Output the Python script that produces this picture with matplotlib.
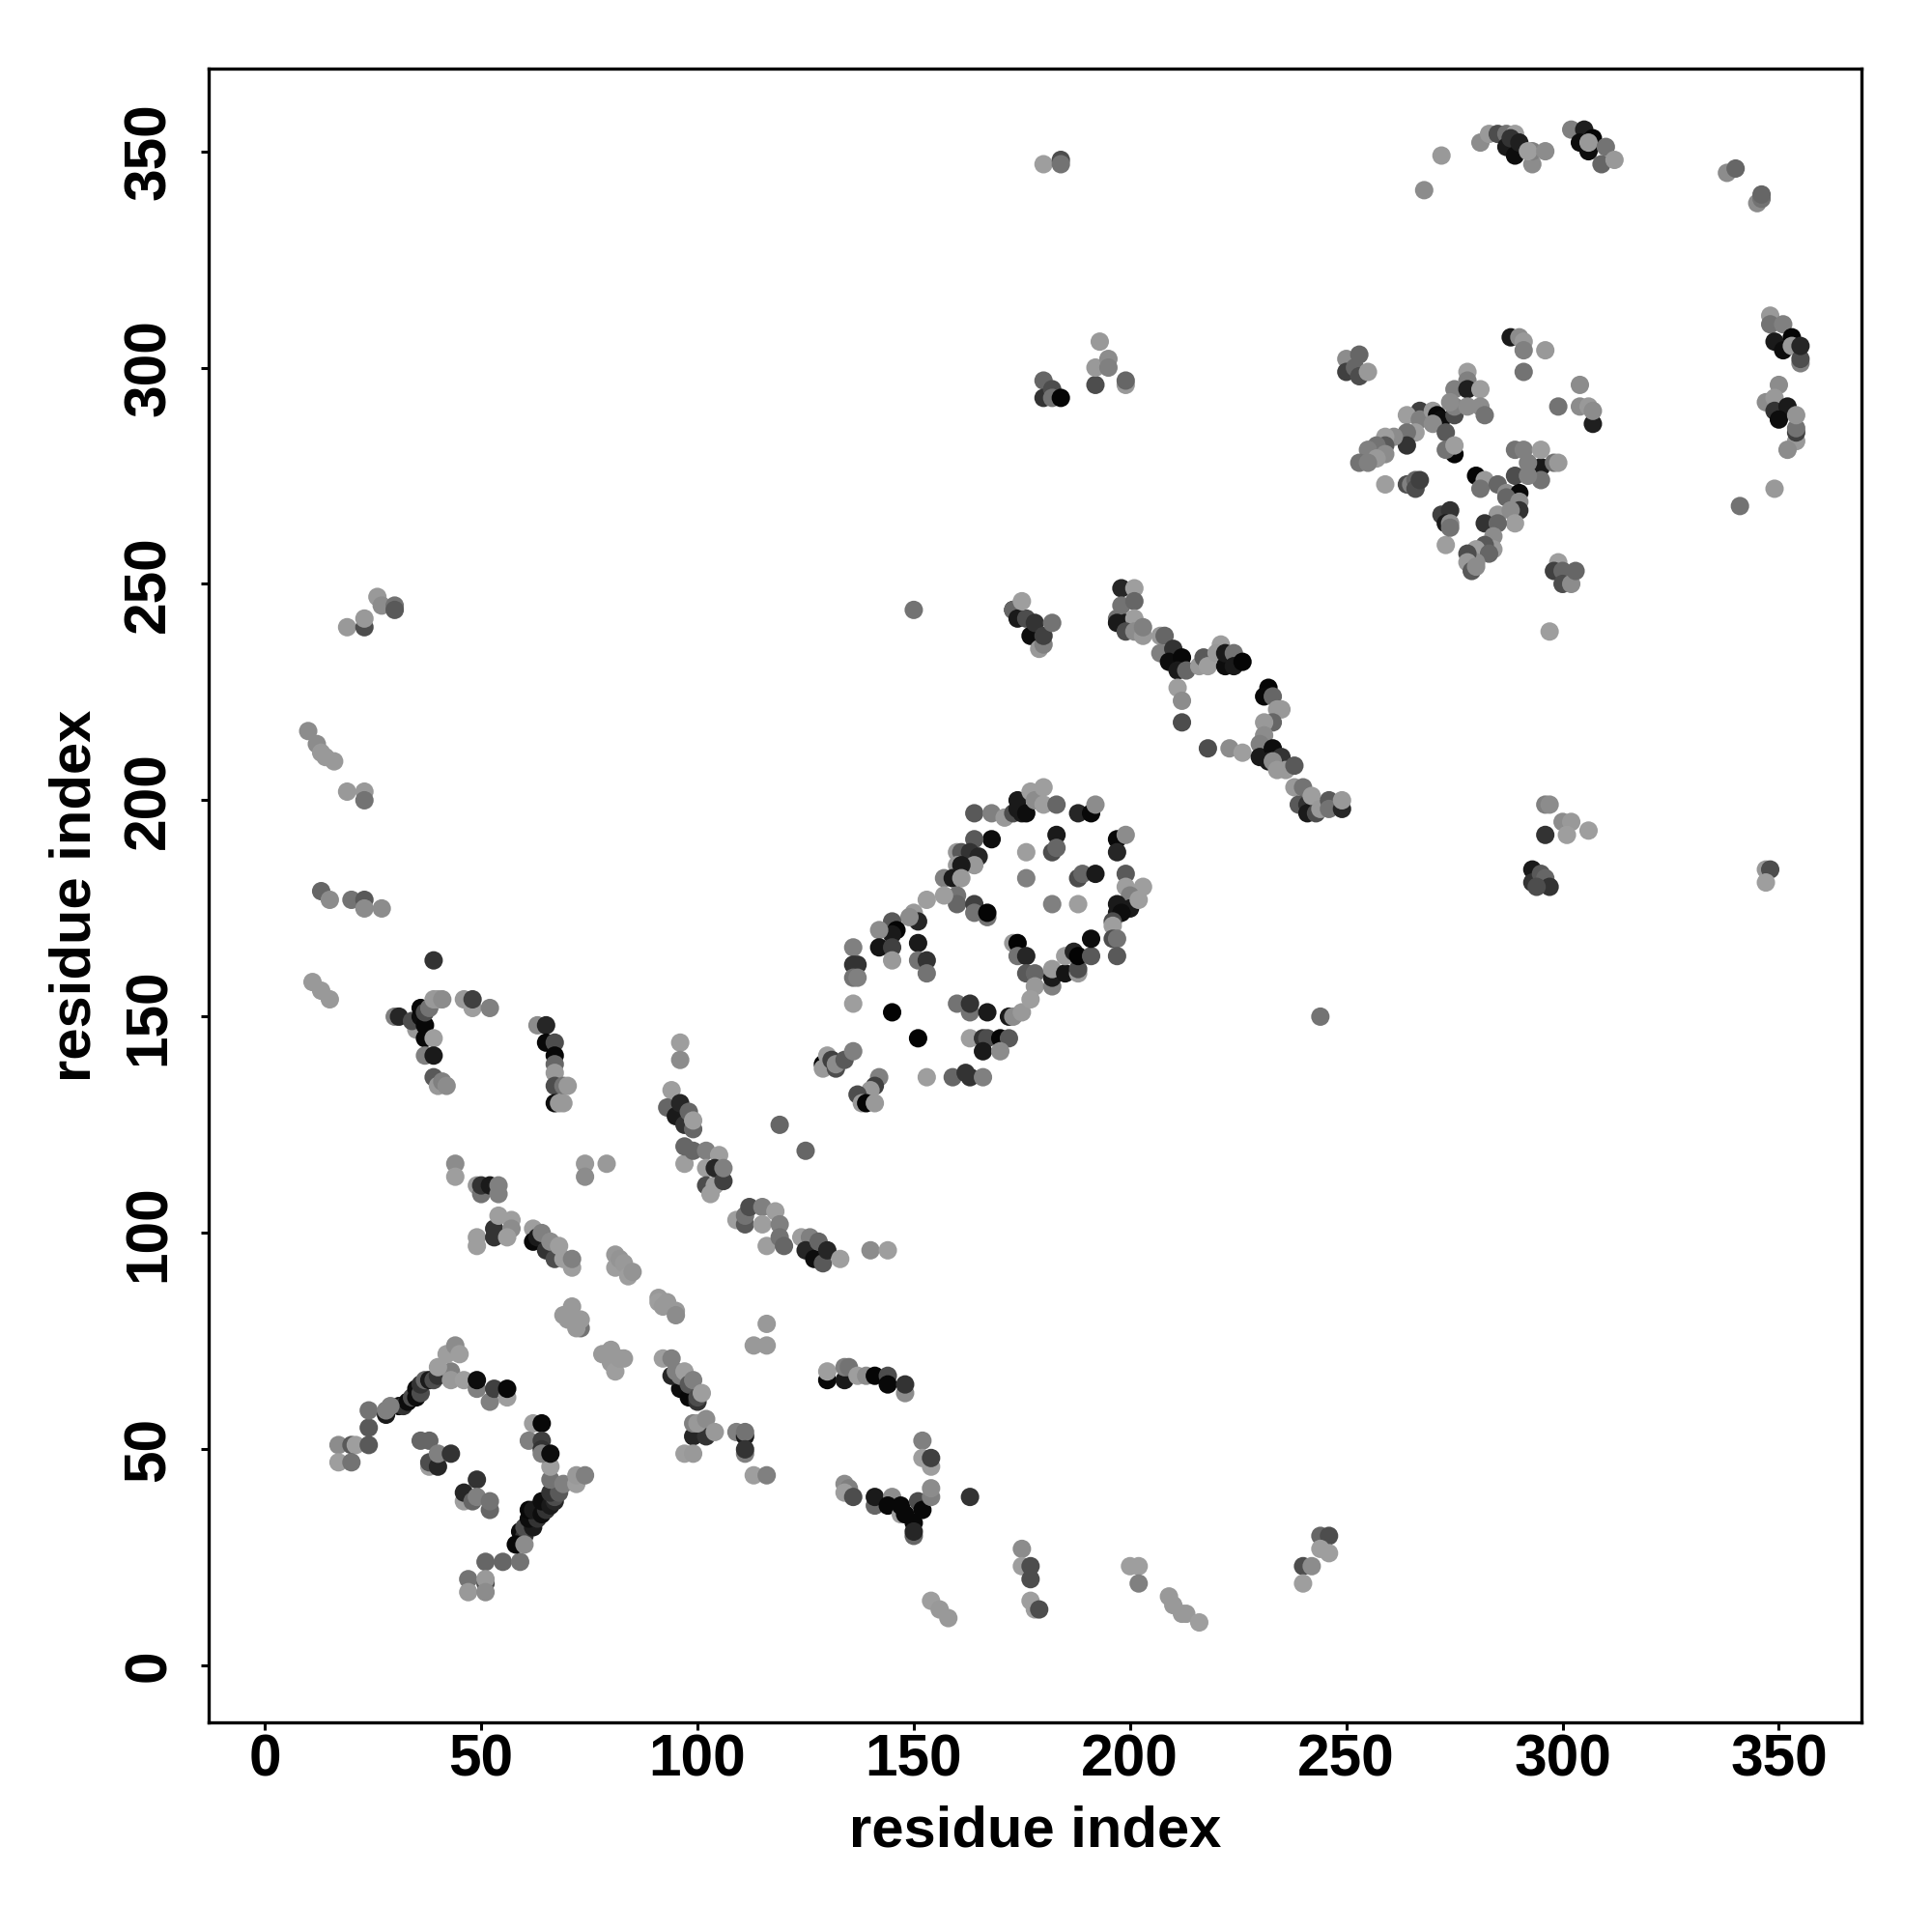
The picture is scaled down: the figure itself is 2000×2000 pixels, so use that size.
import matplotlib
matplotlib.use("Agg")
import matplotlib.pyplot as plt

plt.rcParams['font.family'] = ['Liberation Sans', 'DejaVu Sans']

# (residue i, residue j, grey level)
lower_left = [(17,51,.55),(17,47,.62),(20,51,.35),(21,51,.62),(20,47,.45),(24,51,.35),(24,55,.35),(24,59,.45),
 (28,58,.1),(28,59,.5),(31,60,.05),(32,60,.2),(33,61,.05),(29,60,.5),(34,62,.3),(35,62,.05),(35,64,.05),(36,63,.3),
 (36,65,.2),(37,66,.4),(38,66,.1),(39,66,.3),(40,67,.2),(43,68,.5),(43,66,.6),(40,69,.62),(42,72,.62),(44,74,.55),(45,72,.62),
 (46,66,.62),(49,64,.5),(49,66,.05),(52,61,.5),(53,64,.25),(56,62,.62),(56,64,.03),
 (36,52,.4),(38,52,.4),(38,46,.62),(38,47,.3),(40,46,.15),(40,49,.5),(43,49,.2),
 (49,43,.2),(46,38,.62),(46,40,.15),(48,38,.4),(49,39,.5),(52,36,.4),(52,38,.45),
 (51,24,.4),(55,24,.4),(59,24,.45),(47,20,.45),(51,19,.3),(51,20,.6),(47,17,.6),(51,17,.55)]
lower_left_arm = [(59,31,.05),(60,30,.2),(60,32,.3),(62,32,.1),(61,34,.05),(63,34,.2),(61,36,.03),(62,36,.1),(64,35,.05),
 (65,36,.2),(64,38,.05),(66,37,.1),(67,38,.15),(67,39,.3),(66,40,.2),(68,40,.35),(58,28,.03),(60,28,.55),
 (66,43,.45),(69,42,.5),(72,42,.62),(72,44,.6),(74,44,.5),(66,46,.62),
 (62,56,.62),(64,56,.03),(61,52,.5),(64,52,.25),(64,50,.2),(64,49,.5),(66,49,.05)]
anti_diagonal_a = [(44,116,.55),(44,113,.62),(49,111,.6),(50,109,.45),(50,111,.2),(52,111,.1),(54,109,.5),(54,111,.5),
 (74,116,.6),(79,116,.6),(74,113,.55),
 (49,99,.62),(49,97,.62),(53,101,.2),(53,99,.2),(54,104,.62),(57,103,.62),(57,101,.55),(56,99,.62),
 (62,101,.62),(62,98,.03),(63,99,.1),(65,96,.2),(64,100,.5),(66,98,.55),(67,94,.3),(69,94,.62),(68,97,.62),(71,92,.62),(71,94,.5),
 (81,95,.6),(81,92,.62),(82,94,.58),(83,93,.6),(84,90,.62),(85,91,.58),
 (91,85,.6),(91,84,.62),(92,83,.6),(93,84,.6),(95,82,.6),(95,81,.55),
 (69,81,.6),(71,83,.6),(70,80,.6),(73,78,.45),(72,78,.6),(73,80,.6),
 (78,72,.6),(80,73,.6),(80,70,.6),(81,68,.62),(82,71,.6),(83,71,.6)]
anti_diagonal_b = [(116,79,.6),(113,74,.6),(116,74,.6),
 (96,64,.05),(94,67,.15),(98,62,.03),(92,71,.62),(94,71,.5),(96,67,.5),(95,68,.5),(97,68,.62),(98,65,.35),(99,66,.5),
 (100,61,.2),(100,62,.3),(101,63,.62),
 (99,53,.15),(102,53,.2),(99,56,.5),(100,56,.6),(102,57,.55),(104,54,.6),(97,49,.62),(99,49,.6),
 (109,54,.5),(111,53,.1),(111,54,.45),(111,49,.5),(111,50,.2),(113,44,.62),(116,44,.5)]
lower_mid = [(130,66,.03),(130,68,.62),(134,66,.1),(134,69,.5),(135,69,.45),(137,67,.62),(139,67,.55),(141,67,.02),(144,67,.3),(144,65,.03),
 (148,63,.55),(148,65,.2),(152,52,.5),(152,48,.62),(154,46,.62),(154,48,.25),
 (134,42,.55),(135,41,.5),(134,40,.62),(136,39,.3),(141,37,.4),(141,39,.1),(145,39,.55),(144,37,.03),
 (147,35,.62),(147,37,.03),(148,35,.03),(150,30,.4),(150,33,.03),(150,31,.15),(151,38,.3),(152,36,.03),(154,39,.5),(154,41,.55),(163,39,.2),
 (154,15,.62),(156,13,.6),(158,11,.6),(175,27,.55),(175,23,.62),(177,23,.3),(177,20,.3),(177,15,.62),(178,13,.62),(179,13,.3),
 (200,23,.62),(202,23,.62),(202,19,.5),(209,16,.6),(210,14,.6),(212,12,.6),(213,12,.6),(216,10,.62),
 (240,23,.3),(240,19,.62),(242,23,.55),(244,30,.4),(246,30,.3),(244,27,.62),(246,26,.62)]
left_block = [(39,163,.2),(30,150,.5),(31,150,.15),(35,147,.6),(34,149,.3),(36,150,.05),(37,148,.03),(36,152,.03),(37,151,.3),(38,152,.45),
 (39,154,.6),(40,154,.6),(41,154,.55),(37,145,.03),(39,145,.62),(37,141,.5),(39,141,.1),(39,136,.35),(40,134,.6),(41,135,.5),(42,134,.55),
 (46,154,.6),(48,152,.62),(48,154,.25),(52,152,.5),
 (63,148,.55),(65,148,.15),(65,144,.03),(67,144,.3),(67,141,.03),(67,139,.4),(67,137,.6),(67,134,.3),(69,134,.45),(70,134,.6),(67,130,.05),(68,130,.6),(69,130,.6)]
mid_diagonal = [(96,144,.62),(96,140,.55),(94,133,.62),(93,129,.4),(95,127,.1),(96,130,.15),(97,125,.2),(98,128,.4),(99,124,.4),(99,126,.62),
 (97,116,.62),(97,120,.4),(99,119,.4),(102,119,.5),(105,118,.62),(102,115,.62),(102,111,.3),(103,109,.62),(104,111,.62),(104,115,.15),(106,112,.25),(106,115,.5),
 (119,125,.4),(125,119,.4),(109,103,.62),(111,102,.35),(111,104,.45),(112,106,.3),(115,106,.5),(115,102,.62),(118,105,.62),(119,102,.5),(116,97,.62),(119,99,.45),(120,97,.4),
 (124,99,.62),(126,99,.5),(125,96,.15),(127,94,.05),(128,98,.4),(129,93,.35),(130,96,.15),(133,94,.62),(140,96,.55),(144,96,.62)]
ring_upper = [(164,197,.35),(168,197,.5),(171,196,.6),(173,197,.3),(174,198,.1),(174,200,.1),(175,197,.1),(176,197,.05),(177,202,.62),(178,200,.55),(180,203,.62),(180,199,.62),(183,199,.4),
 (188,197,.15),(191,197,.03),(192,199,.55),(183,192,.1),(176,188,.62),(182,188,.3),(183,189,.4),(197,191,.03),(199,192,.55),(197,188,.15),
 (168,191,.05),(164,191,.35),(160,188,.6),(161,188,.35),(163,188,.2),(165,187,.15),(160,185,.6),(164,185,.6),(161,185,.1),
 (157,182,.5),(159,182,.1),(161,182,.6),(176,182,.5),(188,182,.3),(189,183,.4),(192,183,.1),(199,183,.35),(199,180,.62),(203,180,.62),(200,178,.5),
 (197,176,.1),(200,175,.1),(197,174,.1),(198,174,.05),(196,172,.3),(196,171,.62),(202,177,.62),(196,168,.3),(197,168,.45),(197,164,.35),(182,176,.5),(188,176,.62)]
ring_lower = [(160,178,.45),(160,176,.4),(157,178,.62),(164,176,.25),(164,174,.45),(167,173,.45),(167,174,.02),(153,177,.62),(150,174,.6),(151,172,.15),(149,173,.55),
 (145,172,.35),(146,170,.02),(145,169,.1),(142,170,.55),(142,166,.08),(145,166,.25),(151,167,.1),(136,166,.5),(136,162,.2),(137,162,.2),(136,159,.45),(137,159,.5),
 (145,163,.6),(151,163,.45),(153,163,.2),(153,160,.45),(136,153,.62),(145,151,.01),(151,145,.01),(153,136,.62),
 (173,167,.6),(174,167,.01),(174,164,.45),(176,164,.15),(176,160,.35),(178,160,.4),(178,157,.6),(182,157,.5),(182,159,.1),(182,161,.6),(185,160,.08),(188,160,.6),(188,161,.3),(185,164,.62),(187,165,.15),(188,164,.01),(191,164,.35),(191,168,.05),
 (172,150,.1),(173,150,.55),(175,151,.6),(177,154,.62),(160,153,.45),(163,151,.45),(163,153,.2),(167,151,.1),
 (163,145,.62),(166,145,.2),(167,145,.3),(170,145,.02),(172,145,.35),(166,142,.1),(170,142,.55),(159,136,.4),(162,137,.2),(163,136,.2),(166,136,.5),
 (129,139,.02),(130,141,.62),(129,138,.6),(131,140,.25),(132,138,.3),(132,139,.55),(134,140,.35),(136,142,.5),(142,136,.5),(141,134,.25),(140,133,.6),(137,132,.3),(138,130,.6),(139,130,.02),(141,130,.6)]
central_strip = [(198,249,.15),(201,249,.62),(198,245,.45),(201,246,.4),(197,242,.45),(197,241,.1),(199,241,.1),(201,242,.62),(199,239,.3),(201,239,.55),(203,238,.6),(203,240,.5),
 (207,238,.6),(208,238,.4),(207,234,.5),(210,235,.2),(209,232,.05),(212,233,.03),(211,230,.1),(213,230,.4),(216,231,.6),(217,233,.35),(218,231,.62),(221,236,.62),(220,234,.6),(222,231,.05),(222,234,.1),(224,234,.45),(224,231,.1),(226,232,.02),
 (211,226,.62),(212,223,.55),(212,218,.3),(218,212,.3),(223,212,.55),(226,211,.62),
 (232,226,.02),(231,224,.03),(233,224,.4),(235,221,.6),(234,221,.6),(233,218,.4),(231,218,.6),(231,215,.55),
 (230,213,.5),(230,210,.1),(233,212,.05),(232,209,.1),(235,210,.2),(233,209,.55),(234,207,.6),(236,207,.6),(238,208,.35),
 (238,203,.6),(240,203,.45),(239,199,.35),(241,199,.2),(241,197,.1),(242,201,.62),(243,197,.3),(244,198,.6),(246,200,.35),(246,198,.45),(249,198,.15),(249,200,.6)]
upper_strip_blob = [(173,244,.05),(173,244,.4),(174,242,.1),(176,242,.3),(177,238,.05),(178,241,.2),(179,235,.6),(180,236,.5),(180,238,.25),(182,241,.45),(175,246,.62)]
upper_right_block = [(250,302,.55),(253,303,.4),(250,299,.25),(252,300,.4),(253,298,.3),(255,299,.6),
 (288,307,.1),(290,307,.55),(291,306,.6),(291,304,.5),(296,304,.6),(291,299,.45),(278,299,.62),(278,297,.5),(275,295,.5),(278,295,.12),(281,295,.62),
 (304,296,.55),(299,291,.45),(304,291,.55),(306,291,.6),(307,287,.12),(307,290,.55),
 (267,290,.25),(264,289,.62),(267,288,.5),(270,290,.6),(271,289,.03),(272,288,.05),(270,287,.55),(275,289,.3),(275,291,.5),(274,292,.55),(278,291,.55),(281,291,.55),(282,289,.45),
 (273,285,.35),(266,285,.62),(264,285,.45),(264,282,.2),(275,280,.02),(273,281,.45),(275,282,.62),
 (261,284,.55),(259,284,.62),(259,282,.35),(257,282,.45),(259,280,.55),(255,281,.5),(257,279,.6),(253,278,.45),(255,278,.5),
 (259,273,.62),(264,273,.3),(265,273,.5),(266,274,.4),(266,272,.3),(267,274,.25),
 (273,259,.62),(272,266,.25),(274,267,.2),(273,264,.1),(274,264,.55),(274,263,.45),
 (280,275,.02),(282,274,.6),(281,272,.45),(285,273,.4),(289,281,.45),(291,281,.5),(295,277,.1),(295,281,.62),(295,274,.45),(298,278,.45),(299,278,.6),(292,278,.5),(289,275,.3),(292,275,.5),
 (287,271,.55),(290,271,.03),(287,270,.4),(290,269,.55),(285,266,.6),(290,267,.2),(288,267,.55),(289,264,.62),(282,264,.2),(285,264,.4),(284,261,.55),(284,258,.6),(282,259,.35),(280,258,.62),
 (283,257,.4),(280,255,.55),(278,257,.3),(278,255,.6),(279,253,.35),(280,254,.55),
 (299,255,.62),(298,253,.25),(300,253,.4),(300,250,.3),(302,250,.55),(303,253,.4),(297,239,.62)]
top_edge = [(180,347,.62),(184,348,.3),(184,347,.45),(268,341,.55),(272,349,.6),(281,352,.55),(283,354,.6),(285,354,.3),(287,354,.45),(289,354,.62),
 (287,351,.1),(288,353,.2),(289,349,.05),(290,352,.12),(293,347,.55),(293,350,.5),(292,350,.62),(296,350,.55),
 (302,355,.5),(305,355,.12),(304,352,.05),(306,350,.05),(307,353,.02),(306,352,.6),(309,347,.4),(310,351,.45),(312,348,.6),
 (338,345,.55),(340,346,.4),(345,338,.55),(346,339,.45),(346,340,.4)]
right_edge = [(348,312,.6),(348,310,.45),(351,310,.5),(349,306,.1),(351,304,.05),(353,307,.02),(353,305,.6),(355,301,.5),(355,302,.3),(355,305,.15),
 (350,296,.55),(347,292,.55),(349,293,.6),(349,290,.2),(352,291,.1),(350,288,.05),(354,283,.6),(354,285,.25),(354,286,.45),(354,289,.58),(352,281,.55),(349,272,.6),(341,268,.45),
 (296,199,.5),(297,199,.55),(296,192,.2),(300,195,.55),(302,195,.6),(301,192,.62),(306,193,.62),(293,184,.1),(293,181,.2),(295,183,.35),(296,182,.4),(297,180,.2),(294,180,.3),
 (347,184,.6),(348,184,.3),(347,181,.62),(150,244,.45),(244,150,.45)]
upper_mid = [(180,297,.4),(180,293,.2),(182,295,.3),(182,293,.45),(184,293,.02),(192,296,.3),(192,300,.6),(193,306,.6),(195,302,.55),(195,300,.5),(199,296,.6),(199,297,.4)]
far_left = [(10,216,.55),(12,213,.55),(13,211,.6),(14,210,.6),(16,209,.6),(19,202,.6),(23,202,.6),(23,200,.45),
 (13,179,.4),(15,177,.55),(20,177,.45),(23,177,.35),(23,175,.55),(27,175,.55),(11,158,.6),(13,156,.6),(15,154,.6),
 (19,240,.6),(23,240,.3),(23,242,.6),(26,247,.6),(27,245,.55),(30,245,.45),(30,244,.35)]

all_clusters = [lower_left, lower_left_arm, anti_diagonal_a, anti_diagonal_b, lower_mid, left_block, mid_diagonal,
                ring_upper, ring_lower, central_strip, upper_strip_blob, upper_right_block, top_edge, right_edge, upper_mid, far_left]

tick_values = [0, 50, 100, 150, 200, 250, 300, 350]

fig = plt.figure(figsize=(10, 10), dpi=200)
ax = fig.add_axes([215.6/2000, 217/2000, 1711.4/2000, 1712/2000])

for cluster in all_clusters:
    xs = [p[0] for p in cluster]
    ys = [p[1] for p in cluster]
    cs = [(p[2], p[2], p[2]) for p in cluster]
    ax.scatter(xs, ys, c=cs, s=47, linewidths=0, zorder=3)

ax.set_xlim(-13.1, 369.1)
ax.set_ylim(-13.1, 369.1)
ax.set_xticks(tick_values)
ax.set_yticks(tick_values)
ax.tick_params(axis='both', length=2.9, width=1.1, labelsize=21.8)
ax.tick_params(axis='x', pad=1.3)
ax.tick_params(axis='y', pad=8.6)
for lab in ax.get_xticklabels() + ax.get_yticklabels():
    lab.set_fontweight('bold')
for lab in ax.get_yticklabels():
    lab.set_rotation(90)
    lab.set_va('center')
for s in ax.spines.values():
    s.set_linewidth(1.2)
ax.set_xlabel('residue index', fontsize=21.5, fontweight='bold', labelpad=6)
ax.set_ylabel('residue index', fontsize=21.5, fontweight='bold', labelpad=7.5)
fig.savefig('out.png', dpi=200, facecolor='white')
